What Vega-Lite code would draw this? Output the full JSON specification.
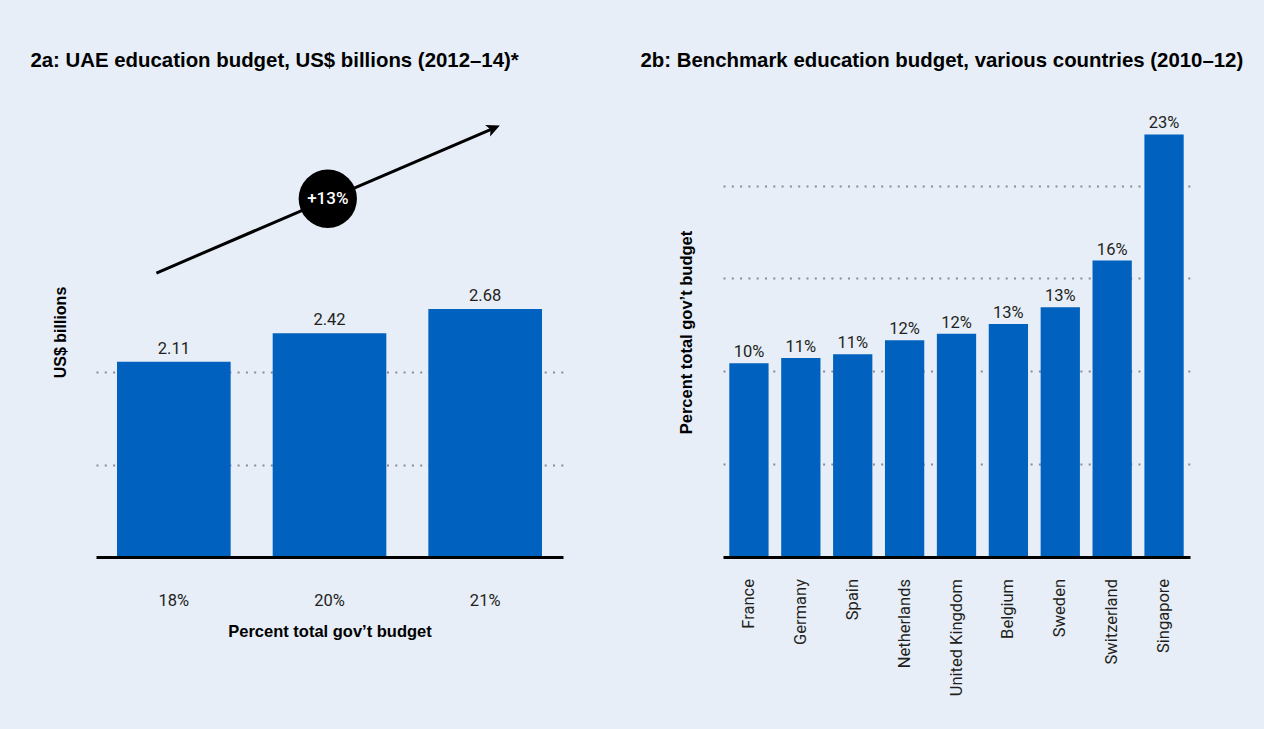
{
  "$schema": "https://vega.github.io/schema/vega-lite/v6.json",
  "background": "#e7eef8",
  "padding": {"left": 30, "top": 50, "right": 31, "bottom": 37},
  "config": {"view": {"stroke": null}},
  "spacing": 77,
  "hconcat": [
    {
      "width": 467,
      "height": 450,
      "title": {"text": "2a: UAE education budget, US$ billions (2012–14)*", "anchor": "start", "frame": "group", "dx": -65.6, "offset": 20, "baseline": "alphabetic", "fontSize": 20.4, "fontWeight": "bold", "font": "Liberation Sans", "color": "#000000"},
      "layer": [
        {
          "data": {"values": [
            {"share": "18%", "budget": 2.11},
            {"share": "20%", "budget": 2.42},
            {"share": "21%", "budget": 2.68}
          ]},
          "encoding": {
            "x": {"field": "share", "type": "nominal", "sort": null,
              "scale": {"paddingInner": 0.27, "paddingOuter": 0.135},
              "axis": {"title": "Percent total gov’t budget", "labelAngle": 0, "ticks": false, "domainColor": "#000000", "domainWidth": 3, "labelPadding": 48, "labelBaseline": "alphabetic", "labelFont": "Roboto", "labelFontSize": 16.5, "labelColor": "#231f20", "titleFont": "Liberation Sans", "titleFontSize": 16.5, "titleFontWeight": "bold", "titleColor": "#000000", "titlePadding": 28, "titleBaseline": "alphabetic", "zindex": 1}},
            "y": {"field": "budget", "type": "quantitative",
              "scale": {"domain": [0, 4.865], "nice": false},
              "axis": {"title": "US$ billions", "values": [1, 2], "labels": false, "ticks": false, "domain": false, "grid": true, "gridColor": "#8c8c8c", "gridDash": [2, 6.3], "gridWidth": 2, "titlePadding": 28, "titleFont": "Liberation Sans", "titleFontSize": 16, "titleFontWeight": "bold", "titleColor": "#000000"}}
          },
          "layer": [
            {"mark": {"type": "bar", "color": "#0061be"}},
            {"mark": {"type": "text", "dy": -8, "baseline": "alphabetic", "font": "Roboto", "fontSize": 16.5, "color": "#231f20"},
             "encoding": {"text": {"field": "budget", "type": "quantitative", "format": ".2f"}}}
          ]
        },
        {
          "layer": [
            {
              "data": {"values": [
                {"x": 0.388, "y": 3.07},
                {"x": 2.553, "y": 4.635}
              ]},
              "mark": {"type": "line", "color": "#000000", "strokeWidth": 3},
              "encoding": {
                "x": {"field": "x", "type": "quantitative", "scale": {"domain": [0, 3], "nice": false, "zero": false}, "axis": null},
                "y": {"field": "y", "type": "quantitative", "scale": {"domain": [0, 4.865], "nice": false}, "title": "US$ billions"}
              }
            },
            {
              "data": {"values": [{"x": 2.553, "y": 4.635}]},
              "mark": {"type": "point", "shape": "M0,-1L0.9,0.9L0,0.45L-0.9,0.9Z", "filled": true, "color": "#000000", "opacity": 1, "size": 196, "angle": 66.8},
              "encoding": {
                "x": {"field": "x", "type": "quantitative", "scale": {"domain": [0, 3], "nice": false, "zero": false}, "axis": null},
                "y": {"field": "y", "type": "quantitative", "scale": {"domain": [0, 4.865], "nice": false}, "title": "US$ billions"}
              }
            },
            {
              "data": {"values": [{"x": 1.489, "y": 3.873, "label": "+13%"}]},
              "encoding": {
                "x": {"field": "x", "type": "quantitative", "scale": {"domain": [0, 3], "nice": false, "zero": false}, "axis": null},
                "y": {"field": "y", "type": "quantitative", "scale": {"domain": [0, 4.865], "nice": false}, "title": "US$ billions"}
              },
              "layer": [
                {"mark": {"type": "point", "shape": "circle", "filled": true, "color": "#000000", "opacity": 1, "size": 3400}},
                {"mark": {"type": "text", "color": "#ffffff", "font": "Roboto", "fontSize": 17, "fontWeight": 500, "align": "center", "baseline": "middle"},
                 "encoding": {"text": {"field": "label", "type": "nominal"}}}
              ]
            }
          ]
        }
      ],
      "resolve": {"scale": {"x": "independent"}}
    },
    {
      "width": 467,
      "height": 450,
      "title": {"text": "2b: Benchmark education budget, various countries (2010–12)", "anchor": "start", "frame": "group", "dx": -82.6, "offset": 20, "baseline": "alphabetic", "fontSize": 20.4, "fontWeight": "bold", "font": "Liberation Sans", "color": "#000000"},
      "data": {"values": [
        {"country": "France", "pct": 10.43, "label": "10%"},
        {"country": "Germany", "pct": 10.72, "label": "11%"},
        {"country": "Spain", "pct": 10.92, "label": "11%"},
        {"country": "Netherlands", "pct": 11.67, "label": "12%"},
        {"country": "United Kingdom", "pct": 12.02, "label": "12%"},
        {"country": "Belgium", "pct": 12.55, "label": "13%"},
        {"country": "Sweden", "pct": 13.45, "label": "13%"},
        {"country": "Switzerland", "pct": 15.96, "label": "16%"},
        {"country": "Singapore", "pct": 22.75, "label": "23%"}
      ]},
      "encoding": {
        "x": {"field": "country", "type": "nominal", "sort": null,
          "scale": {"paddingInner": 0.243, "paddingOuter": 0.1215},
          "axis": {"title": null, "labelAngle": -90, "ticks": false, "domainColor": "#000000", "domainWidth": 3, "labelPadding": 21.5, "labelFont": "Roboto", "labelFontSize": 16.5, "labelColor": "#231f20", "zindex": 1}},
        "y": {"field": "pct", "type": "quantitative",
          "scale": {"domain": [0, 24.23], "nice": false},
          "axis": {"title": "Percent total gov’t budget", "values": [5, 10, 15, 20], "labels": false, "ticks": false, "domain": false, "grid": true, "gridColor": "#8c8c8c", "gridDash": [2, 6.3], "gridWidth": 2, "titlePadding": 29, "titleFont": "Liberation Sans", "titleFontSize": 16.5, "titleFontWeight": "bold", "titleColor": "#000000"}}
      },
      "layer": [
        {"mark": {"type": "bar", "color": "#0061be"}},
        {"mark": {"type": "text", "dy": -6, "baseline": "alphabetic", "font": "Roboto", "fontSize": 16.5, "color": "#231f20"},
         "encoding": {"text": {"field": "label", "type": "nominal"}}}
      ]
    }
  ]
}
